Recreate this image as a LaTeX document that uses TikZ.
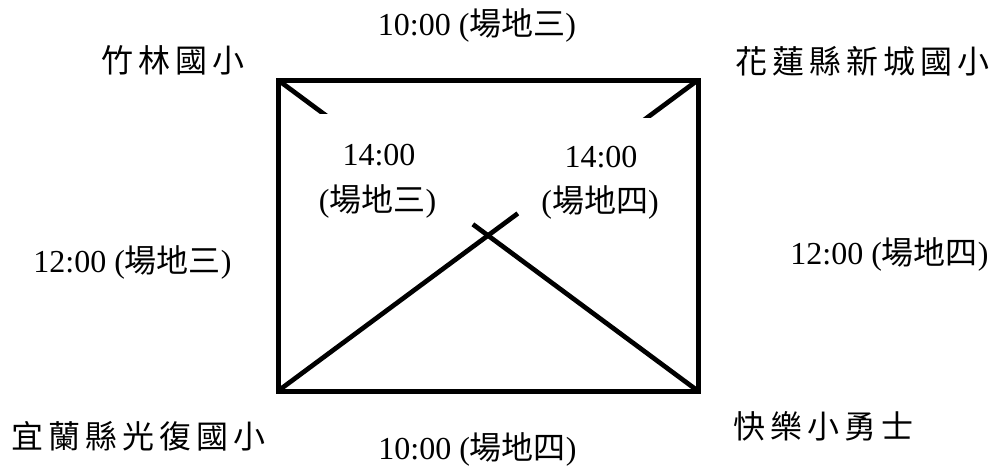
\documentclass[tikz,border=0pt]{standalone}
\usepackage{fontspec}
\setmainfont{Liberation Serif}
\newfontfamily\cjk{Noto Sans CJK TC}
\newfontfamily\cjkls[LetterSpace=16]{Noto Sans CJK TC}
\usetikzlibrary{calc}
\begin{document}
\begin{tikzpicture}[x=1pt,y=-1pt,
  every node/.style={inner sep=0pt,font=\fontsize{32}{38}\selectfont},
  school/.style={anchor=west,font=\fontsize{32}{38}\selectfont\cjkls},
  timelbl/.style={anchor=base},
  frame/.style={line width=5pt,line join=miter},
  diag/.style={line width=4.7pt}]
\useasboundingbox (0,0) rectangle (997,469);
\coordinate (tl) at (278,80);
\coordinate (tr) at (698,80);
\coordinate (br) at (698,391);
\coordinate (bl) at (278,391);
\coordinate (d1a) at ($(tl)!0.15!(br)$);
\coordinate (d1b) at ($(tl)!0.464!(br)$);
\coordinate (d2a) at ($(bl)!0.571!(tr)$);
\coordinate (d2b) at ($(bl)!0.85!(tr)$);
\begin{scope}
  \clip (0,0) rectangle (500,113.5);
  \draw[diag] (tl) -- (d1a);
\end{scope}
\begin{scope}
  \clip (500,0) rectangle (997,117);
  \draw[diag] (d2b) -- (tr);
\end{scope}
\draw[diag] (d1b) -- (br);
\draw[diag] (bl) -- (d2a);
\draw[frame] (tl) -- (tr) -- (br) -- (bl) -- cycle;
% schools
\node[school] (s1) at (101,60) {竹林國小};
\node[school] (s2) at (735,61) {花蓮縣新城國小};
\node[school] (s3) at (11,436) {宜蘭縣光復國小};
\node[school] (s4) at (733,426) {快樂小勇士};
% times
\node[timelbl] (t1) at (477,35) {10:00 ({\cjk 場地三})};
\node[timelbl] (t2) at (477.5,459) {10:00 ({\cjk 場地四})};
\node[timelbl] (t3) at (132.5,272) {12:00 ({\cjk 場地三})};
\node[timelbl] (t4) at (889.5,264) {12:00 ({\cjk 場地四})};
\node[timelbl] (t5) at (379,165) {14:00};
\node[timelbl] (t6) at (377.5,211) {({\cjk 場地三})};
\node[timelbl] (t7) at (601,167) {14:00};
\node[timelbl] (t8) at (600,212) {({\cjk 場地四})};
\end{tikzpicture}
\end{document}
